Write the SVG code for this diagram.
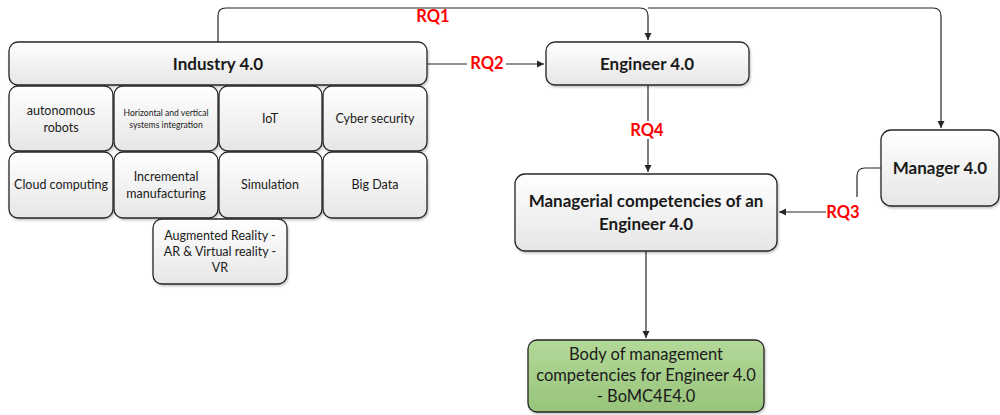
<svg xmlns="http://www.w3.org/2000/svg" width="1000" height="415" viewBox="0 0 1000 415">
<style>
.box{fill:url(#g);stroke:#262626;stroke-width:1.3;filter:url(#sh)}
.green{fill:url(#gg);stroke:#262626;stroke-width:1.3;filter:url(#sh)}
text{font-family:Lato,"Open Sans","Liberation Sans",sans-serif;fill:#1a1a1a;text-anchor:middle}
.t{font-size:12.5px}
.bt{font-size:16.5px}
.b{font-size:17px;font-weight:bold}
.s{font-size:8.6px}
.rq{font-size:16.5px;font-weight:bold;fill:#ff0000}
.c{fill:none;stroke:#262626;stroke-width:1.2}
</style>
<defs>
<linearGradient id="g" x1="0" y1="0" x2="0" y2="1"><stop offset="0" stop-color="#ffffff"/><stop offset="1" stop-color="#e6e6e6"/></linearGradient>
<linearGradient id="gg" x1="0" y1="0" x2="0" y2="1"><stop offset="0" stop-color="#b4d99a"/><stop offset="1" stop-color="#98c47a"/></linearGradient>
<filter id="sh" x="-10%" y="-10%" width="120%" height="130%"><feDropShadow dx="1" dy="1.5" stdDeviation="1.2" flood-color="#000" flood-opacity="0.25"/></filter>
<marker id="a" markerWidth="8" markerHeight="8" refX="7" refY="4" orient="auto" markerUnits="userSpaceOnUse"><path d="M0,0.5 L7,4 L0,7.5 Z" fill="#262626"/></marker>
</defs>
<g id="connectors">
<path class="c" d="M218,42 V16 Q218,8 226,8 H640 Q648,8 648,16 V40" marker-end="url(#a)"/>
<path class="c" d="M648,8 H933 Q941,8 941,16 V128" marker-end="url(#a)"/>
<rect x="413" y="10" width="40" height="17" fill="#fff"/>
<text class="rq" x="433" y="22">RQ1</text>
<path class="c" d="M427,64 H544" marker-end="url(#a)"/>
<rect x="467" y="55" width="39" height="17" fill="#fff"/>
<text class="rq" x="487" y="69">RQ2</text>
<path class="c" d="M648,85 V172" marker-end="url(#a)"/>
<rect x="627" y="121" width="42" height="18" fill="#fff"/>
<text class="rq" x="647" y="136">RQ4</text>
<path class="c" d="M881,168 H865 Q857,168 857,176 V197"/>
<path class="c" d="M826,212 H779" marker-end="url(#a)"/>
<text class="rq" x="843" y="218">RQ3</text>
<path class="c" d="M646,251 V338" marker-end="url(#a)"/>
</g>
<g id="industry"><rect class="box" x="9" y="42" width="418" height="43" rx="9"/><text class="b" x="218" y="70">Industry 4.0</text></g>
<g id="autonomous"><rect class="box" x="9" y="86" width="104" height="65" rx="9"/><text class="t" x="61" y="115">autonomous</text><text class="t" x="61" y="132">robots</text></g>
<g id="horizontal"><rect class="box" x="114" y="86" width="104" height="65" rx="9"/><text class="s" x="166" y="116">Horizontal and vertical</text><text class="s" x="166" y="128">systems integration</text></g>
<g id="iot"><rect class="box" x="219" y="86" width="103" height="65" rx="9"/><text class="t" x="270" y="123">IoT</text></g>
<g id="cyber"><rect class="box" x="323" y="86" width="104" height="65" rx="9"/><text class="t" x="375" y="123">Cyber security</text></g>
<g id="cloud"><rect class="box" x="9" y="152" width="104" height="66" rx="9"/><text class="t" x="61" y="189">Cloud computing</text></g>
<g id="incremental"><rect class="box" x="114" y="152" width="104" height="66" rx="9"/><text class="t" x="166" y="181">Incremental</text><text class="t" x="166" y="198">manufacturing</text></g>
<g id="simulation"><rect class="box" x="219" y="152" width="103" height="66" rx="9"/><text class="t" x="270" y="189">Simulation</text></g>
<g id="bigdata"><rect class="box" x="323" y="152" width="104" height="66" rx="9"/><text class="t" x="375" y="189">Big Data</text></g>
<g id="ar"><rect class="box" x="153" y="219" width="134" height="65" rx="9"/><text class="t" x="220" y="240">Augmented Reality -</text><text class="t" x="220" y="256">AR &amp; Virtual reality -</text><text class="t" x="220" y="272">VR</text></g>
<g id="engineer"><rect class="box" x="546" y="42" width="203" height="43" rx="9"/><text class="b" x="647" y="70">Engineer 4.0</text></g>
<g id="managerial"><rect class="box" x="515" y="174" width="262" height="77" rx="10"/><text class="b" x="646" y="207">Managerial competencies of an</text><text class="b" x="646" y="230">Engineer 4.0</text></g>
<g id="manager"><rect class="box" x="881" y="130" width="118" height="76" rx="10"/><text class="b" x="940" y="174">Manager 4.0</text></g>
<g id="body"><rect class="green" x="528" y="340" width="236" height="72" rx="9"/><text class="bt" x="646" y="360">Body of management</text><text class="bt" x="646" y="381">competencies for Engineer 4.0</text><text class="bt" x="646" y="402">- BoMC4E4.0</text></g>
</svg>
